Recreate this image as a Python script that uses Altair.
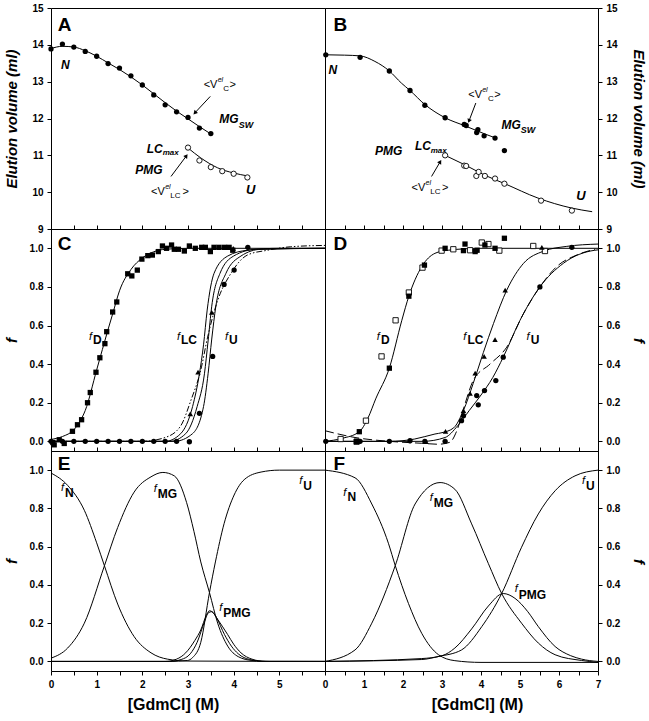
import altair as alt
import pandas as pd

FONT = "Liberation Sans"

# ---------------- Panel A (elution volume, left) ----------------
A_filled_x = [0, 0.25, 0.5, 0.75, 1.0, 1.25, 1.5, 1.75, 2.0, 2.25, 2.5, 2.75, 3.0, 3.25, 3.5]
A_filled_y = [13.89, 14.02, 13.94, 13.82, 13.69, 13.49, 13.37, 13.16, 12.91, 12.64, 12.37, 12.18, 12.03, 11.74, 11.59]
A_open_x = [3.0, 3.25, 3.5, 3.75, 4.0, 4.3]
A_open_y = [11.21, 10.86, 10.68, 10.57, 10.50, 10.40]
A_fit1_x = [0, 0.25, 0.5, 0.75, 1.0, 1.25, 1.5, 1.75, 2.0, 2.25, 2.5, 2.75, 3.0, 3.25, 3.5]
A_fit1_y = [13.9, 13.96, 13.94, 13.84, 13.69, 13.51, 13.33, 13.13, 12.91, 12.67, 12.43, 12.2, 11.99, 11.78, 11.58]
A_fit2_x = [3.0, 3.28, 3.65, 4.0, 4.31]
A_fit2_y = [11.2, 10.93, 10.66, 10.52, 10.44]

# ---------------- Panel B (elution volume, right) ----------------
B_filled_x = [0.02, 0.9, 1.65, 2.18, 2.56, 3.08, 3.57, 3.62, 3.89, 3.92, 4.08, 4.36, 4.6]
B_filled_y = [13.73, 13.66, 13.29, 12.76, 12.36, 12.02, 11.84, 11.81, 11.62, 11.70, 11.53, 11.47, 11.13]
B_open_x = [3.08, 3.57, 3.62, 3.88, 3.94, 4.1, 4.36, 4.6, 5.54, 6.33]
B_open_y = [11.0, 10.72, 10.71, 10.44, 10.55, 10.44, 10.37, 10.23, 9.77, 9.50]
B_fit1_x = [0, 0.5, 0.9, 1.28, 1.65, 1.96, 2.18, 2.56, 3.08, 3.59, 4.1, 4.4]
B_fit1_y = [13.73, 13.72, 13.70, 13.55, 13.29, 12.96, 12.76, 12.38, 12.02, 11.80, 11.58, 11.46]
B_fit2_x = [3.08, 3.59, 4.1, 4.61, 5.46, 6.32, 6.85]
B_fit2_y = [11.0, 10.74, 10.46, 10.23, 9.84, 9.57, 9.47]

# ---------------- Panel C (fractions, left) ----------------
C_sq_x = [0.04, 0.07, 0.18, 0.29, 0.47, 0.58, 0.67, 0.80, 0.86, 0.985, 1.07, 1.18, 1.22, 1.35, 1.44, 1.68,
          1.77, 1.89, 1.99, 2.12, 2.22, 2.35, 2.44, 2.53, 2.64, 2.70, 2.79, 2.92, 3.03, 3.16, 3.30, 3.38,
          3.49, 3.57, 3.68, 3.80, 3.90, 3.98]
C_sq_y = [-0.006, -0.018, 0.008, -0.011, 0.052, 0.086, 0.112, 0.20, 0.253, 0.358, 0.433, 0.506, 0.568, 0.67,
          0.722, 0.868, 0.857, 0.887, 0.944, 0.962, 0.965, 0.983, 1.012, 1.0, 1.017, 0.995, 0.995, 0.986,
          1.012, 1.0, 1.005, 1.005, 0.983, 1.005, 1.005, 1.005, 1.005, 0.99]
C_circ_x = [0, 0.25, 0.5, 0.75, 1.0, 1.25, 1.5, 1.75, 2.0, 2.25, 2.5, 2.75, 3.03, 3.25, 3.54, 3.79, 4.01, 4.31]
C_circ_y = [0, 0, 0, 0, 0, 0, 0, 0, 0, 0, 0, 0, -0.002, 0.145, 0.44, 0.813, 0.887, 1.005]
C_tri_x = [3.05, 3.22, 3.52, 3.99]
C_tri_y = [0.142, 0.358, 0.668, 1.0]
C_fD_x = [0, 0.25, 0.5, 0.62, 0.75, 1.0, 1.25, 1.35, 1.5, 1.75, 2.0, 2.25, 2.5, 3.0, 6.0]
C_fD_y = [0.01, 0.025, 0.06, 0.098, 0.16, 0.37, 0.58, 0.66, 0.78, 0.89, 0.95, 0.982, 0.995, 1.0, 1.0]
C_fLC_x = [0, 2.5, 2.84, 3.1, 3.25, 3.34, 3.42, 3.57, 3.87, 4.3, 5.0, 6.0]
C_fLC_y = [0, 0.0, 0.04, 0.18, 0.35, 0.50, 0.68, 0.87, 0.96, 0.99, 1.0, 1.0]
C_fM_x = [0, 2.6, 2.95, 3.2, 3.36, 3.44, 3.52, 3.7, 4.0, 4.5, 6.0]
C_fM_y = [0, 0.0, 0.04, 0.18, 0.35, 0.52, 0.70, 0.87, 0.96, 0.995, 1.0]
C_fU_x = [0, 2.7, 3.1, 3.34, 3.44, 3.52, 3.61, 3.83, 4.16, 4.6, 6.0]
C_fU_y = [0, 0.0, 0.04, 0.18, 0.35, 0.53, 0.70, 0.87, 0.96, 0.995, 1.0]
C_dd_x = [0, 2.0, 2.5, 2.84, 3.06, 3.28, 3.43, 3.65, 3.94, 4.3, 4.74, 5.25, 6.0]
C_dd_y = [0, 0.0, 0.02, 0.08, 0.21, 0.37, 0.54, 0.73, 0.87, 0.965, 0.99, 1.008, 1.015]

# ---------------- Panel D (fractions, right) ----------------
D_sqo_x = [0.40, 0.81, 1.05, 1.45, 1.81, 2.15, 2.50, 2.99, 3.29, 3.72, 4.02, 4.19, 4.47, 5.34, 5.64]
D_sqo_y = [0.012, -0.002, 0.107, 0.44, 0.627, 0.771, 0.90, 0.988, 0.995, 0.99, 1.03, 1.022, 0.988, 1.012, 0.986]
D_sqf_x = [0.81, 0.88, 1.65, 2.15, 2.55, 3.08, 3.55, 3.59, 3.85, 3.90, 4.10, 4.36, 4.6]
D_sqf_y = [0.0, 0.05, 0.379, 0.752, 0.913, 1.0, 0.988, 1.022, 0.983, 0.99, 1.017, 1.0, 1.052]
D_circ_x = [0.02, 0.9, 1.65, 2.18, 2.56, 3.08, 3.5, 3.55, 3.89, 3.93, 4.09, 4.38, 4.57, 5.51, 6.33]
D_circ_y = [0, 0, 0, 0.003, 0, 0, 0.107, 0.133, 0.237, 0.189, 0.263, 0.315, 0.436, 0.80, 1.005]
D_tri_x = [2.59, 3.09, 3.55, 3.72, 3.85, 4.08, 4.36, 4.62, 5.56]
D_tri_y = [-0.002, 0.052, 0.159, 0.249, 0.353, 0.44, 0.527, 0.783, 1.005]
D_fD_x = [0, 0.43, 0.88, 1.1, 1.3, 1.65, 1.97, 2.15, 2.48, 2.82, 3.16, 4.0, 7.0]
D_fD_y = [0.0, 0.015, 0.05, 0.12, 0.22, 0.38, 0.627, 0.752, 0.905, 0.974, 0.99, 1.0, 1.0]
D_fLC_x = [0, 1.65, 2.3, 2.82, 3.0, 3.3, 3.55, 3.8, 4.06, 4.32, 4.66, 5.09, 5.6, 6.2, 7.0]
D_fLC_y = [0, 0.0, 0.012, 0.038, 0.045, 0.07, 0.16, 0.30, 0.46, 0.61, 0.783, 0.922, 0.985, 1.01, 1.022]
D_fU_x = [0, 2.5, 3.08, 3.4, 3.7, 4.0, 4.3, 4.57, 5.0, 5.51, 6.11, 6.92, 7.0]
D_fU_y = [0, 0.0, 0.02, 0.08, 0.16, 0.24, 0.33, 0.436, 0.627, 0.80, 0.922, 0.99, 0.992]
D_dash_x = [0, 0.77, 1.65, 2.48, 2.9, 3.2, 3.38, 3.59, 3.80, 4.23, 4.66, 5.09, 5.51, 5.94, 6.45, 6.92]
D_dash_y = [0.055, 0.02, 0.0, -0.01, -0.015, -0.005, 0.055, 0.194, 0.315, 0.40, 0.488, 0.662, 0.80, 0.905, 0.965, 0.995]

# ---------------- Panel E (species, left) ----------------
E_fN_x = [0, 0.365, 0.73, 1.0, 1.17, 1.46, 1.82, 2.19, 2.55, 3.0, 6.0]
E_fN_y = [0.985, 0.92, 0.79, 0.62, 0.5, 0.30, 0.13, 0.045, 0.012, 0.002, 0.0]
E_fMG_x = [0, 0.365, 0.73, 1.17, 1.46, 1.82, 2.19, 2.45, 2.7, 2.97, 3.13, 3.28, 3.47, 3.65, 3.87, 4.1, 4.4, 4.8, 6.0]
E_fMG_y = [0.017, 0.07, 0.2, 0.5, 0.70, 0.885, 0.965, 0.988, 0.97, 0.83, 0.68, 0.52, 0.36, 0.2, 0.08, 0.025, 0.005, 0.0, 0.0]
E_fU_x = [0, 2.6, 2.99, 3.1, 3.28, 3.47, 3.6, 3.79, 4.01, 4.23, 4.6, 5.0, 6.0]
E_fU_y = [0, 0.0, 0.005, 0.02, 0.1, 0.36, 0.52, 0.72, 0.87, 0.95, 0.99, 1.0, 1.0]
E_fP1_x = [0, 2.5, 2.75, 2.95, 3.15, 3.28, 3.4, 3.47, 3.55, 3.65, 3.87, 4.0, 4.16, 4.4, 4.7, 6.0]
E_fP1_y = [0, 0.0, 0.012, 0.045, 0.11, 0.165, 0.24, 0.265, 0.255, 0.22, 0.14, 0.09, 0.045, 0.012, 0.0, 0.0]
E_fP2_x = [0, 2.6, 2.85, 3.05, 3.2, 3.35, 3.45, 3.52, 3.62, 3.8, 3.95, 4.1, 4.35, 4.7, 6.0]
E_fP2_y = [0, 0.0, 0.01, 0.04, 0.1, 0.2, 0.255, 0.26, 0.23, 0.14, 0.08, 0.04, 0.01, 0.0, 0.0]

# ---------------- Panel F (species, right) ----------------
F_fN_x = [0, 0.77, 1.2, 1.63, 1.8, 2.14, 2.48, 2.91, 3.33, 4.0, 7.0]
F_fN_y = [1.0, 0.96, 0.823, 0.615, 0.502, 0.303, 0.147, 0.035, 0.004, -0.005, -0.005]
F_fMG_x = [0, 0.77, 1.2, 1.8, 2.31, 2.95, 3.33, 3.76, 4.19, 4.53, 5.04, 5.47, 5.9, 6.58, 7.0]
F_fMG_y = [0.0, 0.06, 0.2, 0.5, 0.823, 0.935, 0.90, 0.719, 0.511, 0.355, 0.20, 0.096, 0.035, 0.005, -0.005]
F_fU_x = [0, 2.48, 2.91, 3.5, 4.02, 4.53, 5.04, 5.47, 5.9, 6.41, 7.0]
F_fU_y = [0, 0.01, 0.026, 0.06, 0.182, 0.355, 0.597, 0.771, 0.892, 0.97, 1.0]
F_fP_x = [0, 2.48, 3.0, 3.33, 3.76, 4.19, 4.57, 4.87, 5.2, 5.47, 5.9, 6.3, 6.58, 7.0]
F_fP_y = [0, 0.015, 0.03, 0.07, 0.17, 0.29, 0.355, 0.33, 0.26, 0.182, 0.078, 0.03, 0.012, 0.0]

# ---------------- axis ticks ----------------
XL_TICKS = [0, 0.5, 1, 1.5, 2, 2.5, 3, 3.5, 4, 4.5, 5, 5.5]
XR_TICKS = [0, 0.5, 1, 1.5, 2, 2.5, 3, 3.5, 4, 4.5, 5, 5.5, 6, 6.5, 7]
YV_TICKS = [9, 10, 11, 12, 13, 14, 15]
YF_TICKS = [0, 0.2, 0.4, 0.6, 0.8, 1.0]

# ---------------- annotations (x, y, text, fontSize, style) ----------------
A_text = [
    (0.147, 14.547, "A", 19, "b"), (0.219, 13.46, "N", 12, "bi"),
    (3.343, 12.917, "<V", 11, "n"), (3.65, 13.05, "el", 7, "i"), (3.77, 12.80, "C", 8, "n"), (3.91, 12.917, ">", 11, "n"),
    (3.686, 11.975, "MG", 12, "bi"), (4.11, 11.818, "SW", 9, "bi"),
    (2.095, 11.18, "LC", 12, "bi"), (2.445, 11.063, "max", 8, "bi"),
    (1.846, 10.59, "PMG", 12, "bi"),
    (2.19, 10.012, "<V", 11, "n"), (2.50, 10.13, "el", 7, "i"), (2.61, 9.89, "LC", 8, "n"), (2.88, 10.012, ">", 11, "n"),
    (4.27, 10.07, "U", 13, "bi"),
]
B_text = [
    (0.215, 14.547, "B", 19, "b"), (0.087, 13.325, "N", 12, "bi"),
    (3.672, 12.646, "<V", 11, "n"), (4.03, 12.765, "el", 7, "i"), (4.18, 12.527, "C", 8, "n"), (4.34, 12.646, ">", 11, "n"),
    (4.525, 11.83, "MG", 12, "bi"), (5.02, 11.69, "SW", 9, "bi"),
    (1.28, 11.106, "PMG", 12, "bi"),
    (2.305, 11.24, "LC", 12, "bi"), (2.71, 11.125, "max", 8, "bi"),
    (2.22, 10.12, "<V", 11, "n"), (2.58, 10.24, "el", 7, "i"), (2.70, 10.0, "LC", 8, "n"), (3.0, 10.12, ">", 11, "n"),
    (6.445, 9.90, "U", 13, "bi"),
]
C_text = [
    (0.147, 1.022, "C", 19, "b"),
    (0.832, 0.54, "f", 11, "i"), (0.92, 0.523, "D", 12, "b"),
    (2.759, 0.54, "f", 11, "i"), (2.846, 0.523, "LC", 12, "b"),
    (3.81, 0.54, "f", 11, "i"), (3.898, 0.523, "U", 12, "b"),
]
D_text = [
    (0.215, 1.022, "D", 19, "b"),
    (1.324, 0.54, "f", 11, "i"), (1.434, 0.523, "D", 12, "b"),
    (3.544, 0.54, "f", 11, "i"), (3.654, 0.523, "LC", 12, "b"),
    (5.165, 0.54, "f", 11, "i"), (5.275, 0.523, "U", 12, "b"),
]
E_text = [
    (0.147, 1.032, "E", 19, "b"),
    (0.219, 0.909, "f", 11, "i"), (0.306, 0.882, "N", 12, "b"),
    (2.248, 0.901, "f", 11, "i"), (2.336, 0.876, "MG", 12, "b"),
    (5.437, 0.944, "f", 11, "i"), (5.525, 0.918, "U", 12, "b"),
    (3.686, 0.277, "f", 11, "i"), (3.773, 0.253, "PMG", 12, "b"),
]
F_text = [
    (0.215, 1.032, "F", 19, "b"),
    (0.471, 0.883, "f", 11, "i"), (0.574, 0.857, "N", 12, "b"),
    (2.689, 0.856, "f", 11, "i"), (2.79, 0.83, "MG", 12, "b"),
    (4.866, 0.381, "f", 11, "i"), (4.968, 0.346, "PMG", 12, "b"),
    (6.59, 0.944, "f", 11, "i"), (6.694, 0.918, "U", 12, "b"),
]
# arrows: (x start, y start, x end, y end, head angle)
A_arrows = [(3.488, 12.60, 3.160, 12.165, 223), (2.628, 10.427, 2.956, 10.97, 37)]
B_arrows = [(3.867, 12.42, 3.698, 11.95, 201), (2.732, 10.427, 2.945, 10.81, 31)]

# ---------------- scales & axes ----------------
XS6 = alt.Scale(domain=[0, 6], nice=False, zero=False)
XS7 = alt.Scale(domain=[0, 7], nice=False, zero=False)
YSV = alt.Scale(domain=[9, 15], nice=False, zero=False)
YSF = alt.Scale(domain=[-0.05, 1.1], nice=False, zero=False)


def y_axis(vals, fmt, title, right=False):
    return alt.Axis(values=vals, format=fmt, orient="right" if right else "left", title=title,
                    titleFontSize=15, titleFontStyle="italic", titleFontWeight="bold",
                    titleAngle=90 if right else 270, titleX=40 if right else -40,
                    titleBaseline="middle", titleAlign="center", labelPadding=4)


def x_axis(vals, labeled=False, title_x=0):
    if labeled:
        return alt.Axis(values=vals, orient="bottom", title="[GdmCl] (M)",
                        labelExpr="datum.value % 1 == 0 ? format(datum.value, 'd') : ''",
                        labelFlush=False, labelOverlap=False, labelPadding=4,
                        titleFontSize=16, titleFontWeight="bold", titleX=title_x, titleY=33,
                        titleBaseline="middle", titleAlign="center")
    # ticks drawn inside the panel, against its lower border
    return alt.Axis(values=vals, orient="bottom", labels=False, title="", offset=-4)


class P:
    def __init__(self, xs, ys, xax, yax):
        self.xs, self.ys, self.xax, self.yax = xs, ys, xax, yax

    def enc(self, xf="x", yf="y"):
        return dict(x=alt.X(f"{xf}:Q", scale=self.xs, axis=self.xax),
                    y=alt.Y(f"{yf}:Q", scale=self.ys, axis=self.yax))


def df(xs, ys):
    return pd.DataFrame({"x": xs, "y": ys})


def line(p, xv, yv, dash=None):
    m = dict(color="black", strokeWidth=1, interpolate="monotone", clip=True)
    if dash:
        m["strokeDash"] = dash
    return alt.Chart(df(xv, yv)).mark_line(**m).encode(**p.enc())


def pts(p, xv, yv, shape, filled=True, size=28):
    if filled:
        m = dict(shape=shape, filled=True, color="black", size=size, opacity=1)
    else:
        m = dict(shape=shape, filled=True, fill="white", stroke="black", strokeWidth=0.9, size=size, opacity=1)
    return alt.Chart(df(xv, yv)).mark_point(**m).encode(**p.enc())


STYLES = {"b": ("normal", "bold"), "bi": ("italic", "bold"), "n": ("normal", "normal"), "i": ("italic", "normal")}


def texts(p, rows):
    out = []
    for st, (fs, fw) in STYLES.items():
        sub = [r for r in rows if r[4] == st]
        if not sub:
            continue
        d = pd.DataFrame(sub, columns=["x", "y", "t", "s", "st"])
        out.append(alt.Chart(d).mark_text(align="left", baseline="middle", font=FONT, fontStyle=fs,
                                          fontWeight=fw, color="black").encode(
            text="t:N", size=alt.Size("s:Q", scale=None, legend=None), **p.enc()))
    return out


def arrows(p, rows):
    d = pd.DataFrame(rows, columns=["x", "y", "x2", "y2", "ang"])
    rule = alt.Chart(d).mark_rule(color="black", strokeWidth=1).encode(x2="x2:Q", y2="y2:Q", **p.enc())
    head = alt.Chart(d).mark_point(shape="triangle", filled=True, color="black", size=22, opacity=1).encode(
        angle=alt.Angle("ang:Q", scale=None), **p.enc("x2", "y2"))
    return [rule, head]


pA = P(XS6, YSV, x_axis(XL_TICKS), y_axis(YV_TICKS, "d", "Elution volume (ml)"))
pB = P(XS7, YSV, x_axis(XR_TICKS), y_axis(YV_TICKS, "d", "Elution volume (ml)", right=True))
pC = P(XS6, YSF, x_axis(XL_TICKS), y_axis(YF_TICKS, ".1f", "f"))
pD = P(XS7, YSF, x_axis(XR_TICKS), y_axis(YF_TICKS, ".1f", "f", right=True))
pE = P(XS6, YSF, x_axis(XL_TICKS, True, 122), y_axis(YF_TICKS, ".1f", "f"))
pF = P(XS7, YSF, x_axis(XR_TICKS, True, 152), y_axis(YF_TICKS, ".1f", "f", right=True))

# ---------------- panels ----------------
A = alt.layer(
    line(pA, A_fit1_x, A_fit1_y), line(pA, A_fit2_x, A_fit2_y),
    pts(pA, A_filled_x, A_filled_y, "circle"),
    pts(pA, A_open_x, A_open_y, "circle", filled=False),
    *arrows(pA, A_arrows), *texts(pA, A_text),
).properties(width=274, height=221)

B = alt.layer(
    line(pB, B_fit1_x, B_fit1_y), line(pB, B_fit2_x, B_fit2_y),
    pts(pB, B_filled_x, B_filled_y, "circle"),
    pts(pB, B_open_x, B_open_y, "circle", filled=False),
    *arrows(pB, B_arrows), *texts(pB, B_text),
).properties(width=273, height=221)

DD = [6, 2, 1.5, 2, 1.5, 2]
C = alt.layer(
    line(pC, C_fD_x, C_fD_y), line(pC, C_fLC_x, C_fLC_y),
    line(pC, C_fM_x, C_fM_y), line(pC, C_fU_x, C_fU_y),
    line(pC, C_dd_x, C_dd_y, dash=DD),
    pts(pC, C_sq_x, C_sq_y, "square"),
    pts(pC, C_circ_x, C_circ_y, "circle"),
    pts(pC, C_tri_x, C_tri_y, "triangle-up", size=30),
    *texts(pC, C_text),
).properties(width=274, height=222)

D = alt.layer(
    line(pD, D_fD_x, D_fD_y), line(pD, D_fLC_x, D_fLC_y),
    line(pD, D_fU_x, D_fU_y), line(pD, D_dash_x, D_dash_y, dash=[9, 4]),
    pts(pD, D_sqo_x, D_sqo_y, "square", filled=False),
    pts(pD, D_sqf_x, D_sqf_y, "square"),
    pts(pD, D_circ_x, D_circ_y, "circle"),
    pts(pD, D_tri_x, D_tri_y, "triangle-up", size=30),
    *texts(pD, D_text),
).properties(width=273, height=222)

E = alt.layer(
    line(pE, E_fN_x, E_fN_y), line(pE, E_fMG_x, E_fMG_y),
    line(pE, E_fU_x, E_fU_y), line(pE, E_fP1_x, E_fP1_y),
    line(pE, E_fP2_x, E_fP2_y),
    *texts(pE, E_text),
).properties(width=274, height=220)

F = alt.layer(
    line(pF, F_fN_x, F_fN_y), line(pF, F_fMG_x, F_fMG_y),
    line(pF, F_fU_x, F_fU_y), line(pF, F_fP_x, F_fP_y),
    *texts(pF, F_text),
).properties(width=273, height=220)

chart = alt.concat(A, B, C, D, E, F, columns=2, spacing=0, bounds="flush").properties(
    padding={"left": 3, "top": 2, "right": 2, "bottom": 2},
).configure_view(stroke="black", strokeWidth=1).configure_axis(
    labelFont=FONT, titleFont=FONT, labelColor="black", titleColor="black", tickColor="black",
    labelFontWeight="bold", labelFontSize=10, tickSize=4, tickWidth=1, domain=False, grid=False,
)

chart.save("out.html", embed_options={"renderer": "svg", "actions": False})
